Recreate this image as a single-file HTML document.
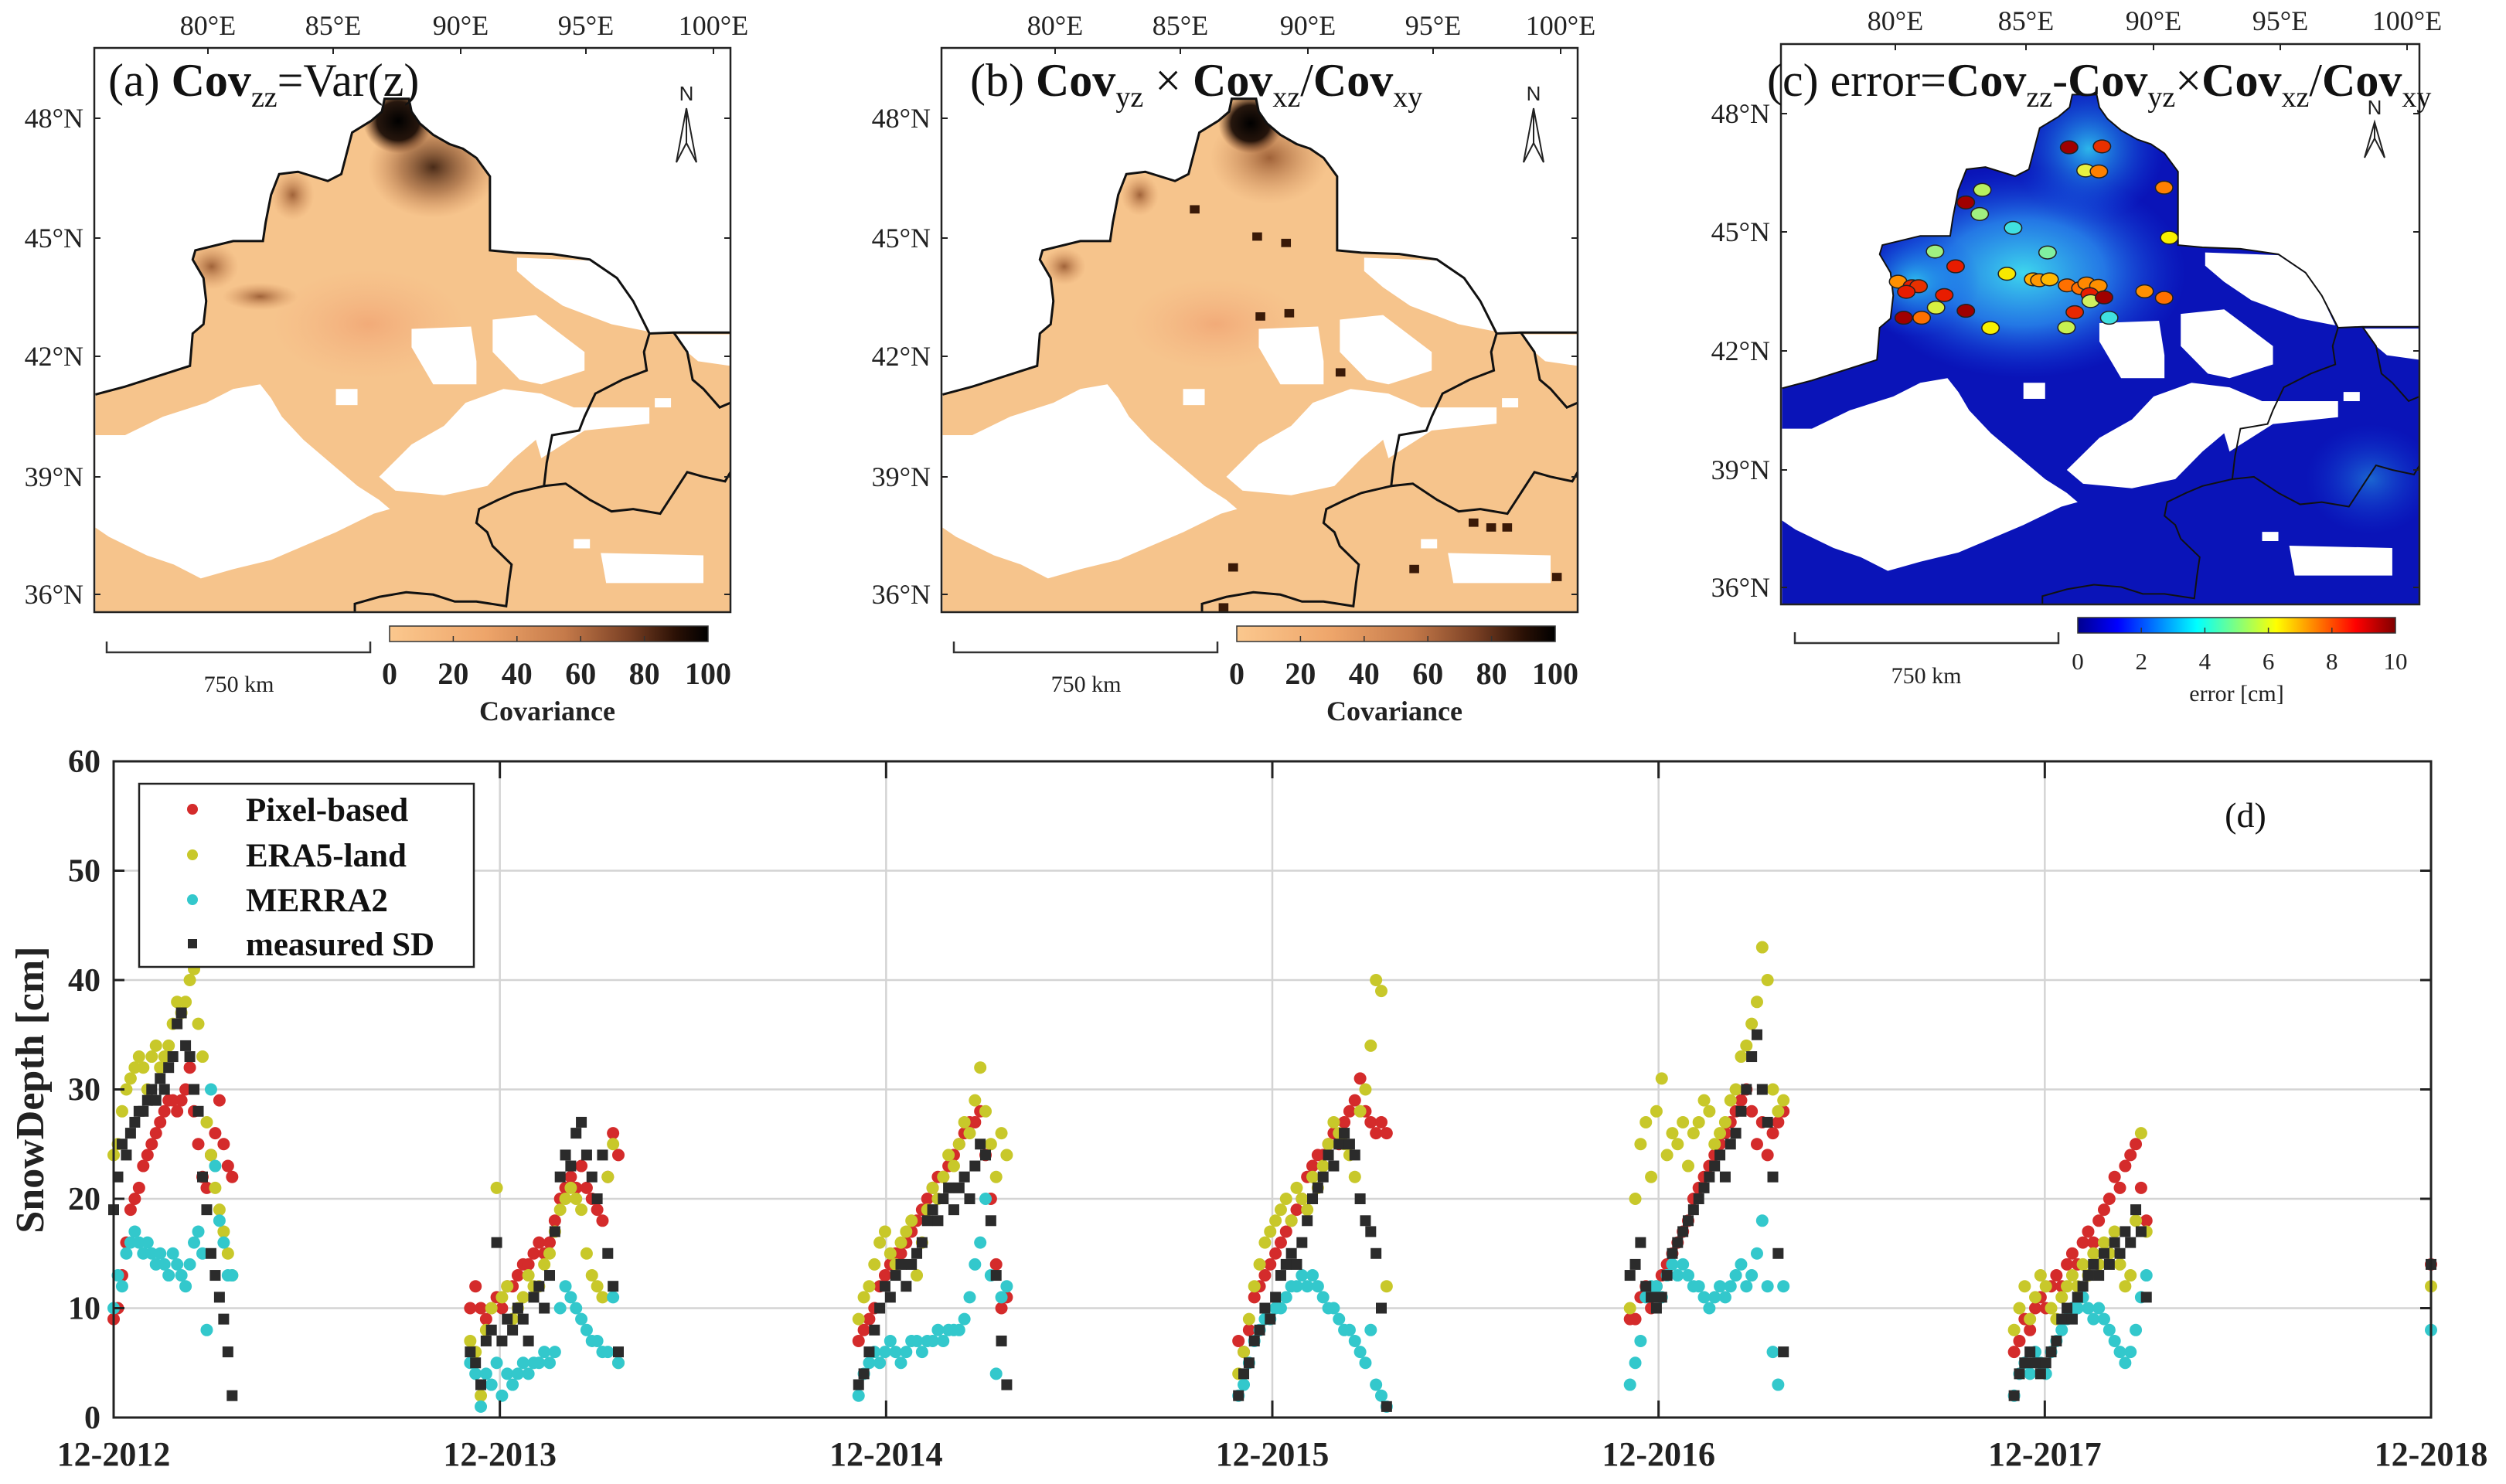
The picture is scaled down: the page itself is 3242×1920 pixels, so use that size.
<!DOCTYPE html>
<html><head><meta charset="utf-8"><style>
html,body{margin:0;padding:0;background:#fff;}
svg{display:block;font-family:"Liberation Serif",serif;}
</style></head><body>
<svg id="root" xmlns="http://www.w3.org/2000/svg" width="3242" height="1920" viewBox="0 0 3242 1920">
<defs>
<linearGradient id="cbA" x1="0" x2="1" y1="0" y2="0"><stop offset="0" stop-color="#fbc88e"/><stop offset="0.3" stop-color="#eea56a"/><stop offset="0.55" stop-color="#c57a4a"/><stop offset="0.75" stop-color="#7a4024"/><stop offset="0.9" stop-color="#2a1005"/><stop offset="1" stop-color="#000"/></linearGradient>
<linearGradient id="cbC" x1="0" x2="1" y1="0" y2="0"><stop offset="0" stop-color="#00008f"/><stop offset="0.125" stop-color="#0000ff"/><stop offset="0.375" stop-color="#00ffff"/><stop offset="0.625" stop-color="#ffff00"/><stop offset="0.875" stop-color="#ff0000"/><stop offset="1" stop-color="#800000"/></linearGradient>
<radialGradient id="darkA"><stop offset="0" stop-color="#2a1004" stop-opacity="0.85"/><stop offset="0.5" stop-color="#7a4020" stop-opacity="0.5"/><stop offset="1" stop-color="#c07040" stop-opacity="0"/></radialGradient>
<radialGradient id="blackA"><stop offset="0" stop-color="#000" stop-opacity="1"/><stop offset="0.6" stop-color="#100400" stop-opacity="0.9"/><stop offset="1" stop-color="#602a10" stop-opacity="0"/></radialGradient>
<radialGradient id="brownS"><stop offset="0" stop-color="#8a4a24" stop-opacity="0.8"/><stop offset="1" stop-color="#d08a58" stop-opacity="0"/></radialGradient>
<radialGradient id="redT"><stop offset="0" stop-color="#f0a070" stop-opacity="0.7"/><stop offset="1" stop-color="#f4b080" stop-opacity="0"/></radialGradient>
<radialGradient id="cyanC"><stop offset="0" stop-color="#40e0f0" stop-opacity="0.95"/><stop offset="0.5" stop-color="#2a90f0" stop-opacity="0.8"/><stop offset="1" stop-color="#1040e0" stop-opacity="0"/></radialGradient>
<radialGradient id="cyanN"><stop offset="0" stop-color="#30c8f0" stop-opacity="0.9"/><stop offset="1" stop-color="#1050e8" stop-opacity="0"/></radialGradient>
</defs>
<g id="maps"></g>
<g id="chart"></g>
</svg>
<script>
// ---------- Chart data (panel d) ----------
const yearLabels = ["12-2012","12-2013","12-2014","12-2015","12-2016","12-2017","12-2018"];
const yTicks = [0,10,20,30,40,50,60];
const seriesNames = ["Pixel-based","ERA5-land","MERRA2","measured SD"];
const seasonYear = [0,1,2,3,4,5,6];
const seasonStart = [0,-28,-26,-32,-27,-29,0];
const seasonStep = [4,5,5,5,5,5,1];
const pixelBased = [
 [9,10,13,16,19,20,21,23,24,25,26,27,28,29,29,28,29,30,32,28,25,22,21,24,26,29,25,23,22],
 [10,12,10,9,10,11,10,12,12,13,14,14,15,16,15,16,18,20,21,22,21,23,21,20,19,18,22,26,24],
 [7,8,9,10,12,13,14,15,15,16,17,18,19,20,21,22,22,23,24,25,26,27,27,28,24,20,14,10,11],
 [7,6,8,11,12,13,14,15,16,17,18,19,20,22,23,24,24,25,26,25,27,28,29,31,28,27,26,27,26],
 [9,9,11,12,10,12,13,14,15,16,17,18,20,21,22,23,24,25,26,27,28,29,30,28,25,27,24,26,27,28],
 [6,7,9,8,10,11,10,12,13,12,14,15,14,16,17,16,18,19,20,22,21,23,24,25,21,18],
 [14]
];
const era5Land = [
 [24,25,28,30,31,32,33,32,30,33,34,32,33,34,36,38,37,38,40,41,36,33,27,24,21,19,17,15,13],
 [7,6,2,8,10,21,11,12,9,10,11,13,12,12,14,15,17,19,20,21,20,19,15,13,12,11,22,25,5],
 [9,11,12,14,16,17,15,14,16,17,18,13,16,19,21,20,22,24,23,25,27,26,29,32,28,25,22,26,24],
 [4,6,9,12,14,16,17,18,19,20,18,21,20,19,22,21,23,25,27,26,25,24,22,28,30,34,40,39,12],
 [10,20,25,27,22,28,31,24,26,25,27,23,26,27,29,28,25,26,27,29,30,33,34,36,38,43,40,30,28,29],
 [8,10,12,9,11,13,12,10,9,11,12,13,12,14,13,15,14,16,15,17,14,12,13,18,26,17],
 [12]
];
const merra2 = [
 [10,13,12,15,16,17,16,15,16,15,14,15,14,13,15,14,13,12,14,16,17,15,8,30,23,18,16,13,13],
 [5,4,1,4,3,5,2,4,3,4,5,4,5,5,6,5,6,10,12,11,10,9,8,7,7,6,6,11,5],
 [2,4,5,6,5,6,7,6,5,6,7,7,6,7,7,8,7,8,8,8,9,11,14,16,20,13,4,11,12],
 [2,3,5,7,8,9,9,10,10,11,12,12,13,12,13,12,11,10,10,9,8,8,7,6,5,8,3,2,1],
 [3,5,7,11,12,12,11,13,14,13,14,13,12,12,11,10,11,12,11,12,13,14,12,13,15,18,12,6,3,12],
 [2,4,5,4,6,5,4,6,7,8,9,10,10,11,10,9,10,9,8,7,6,5,6,8,11,13],
 [8]
];
const measuredSD = [
 [19,22,25,24,26,27,28,28,29,30,29,31,30,32,33,36,37,34,33,30,28,22,19,15,13,11,9,6,2],
 [6,5,3,7,8,16,7,9,8,10,9,7,11,12,10,13,17,22,24,23,26,27,24,22,20,24,15,12,6],
 [3,4,6,8,10,12,11,13,14,12,14,15,16,18,19,18,20,21,19,21,22,20,23,25,24,18,13,7,3],
 [2,4,5,7,8,10,9,11,13,14,15,14,16,18,20,21,22,24,23,25,26,25,24,20,18,17,15,10,1],
 [13,14,16,12,11,10,11,13,15,16,17,18,19,20,21,22,23,24,22,25,26,28,30,33,35,30,27,22,15,6],
 [2,4,5,6,5,4,5,6,7,9,10,9,11,12,13,14,13,15,14,16,15,17,16,19,17,11],
 [14]
];
// ---------- helpers ----------
const NS="http://www.w3.org/2000/svg";
function mk(tag, parent, attrs){const e=document.createElementNS(NS,tag);for(const k in attrs)e.setAttribute(k,attrs[k]);if(parent)parent.appendChild(e);return e;}
function txt(parent, x, y, s, attrs){const t=mk("text",parent,Object.assign({x:x,y:y},attrs||{}));t.textContent=s;return t;}

// ---------- Chart ----------
const chart=document.getElementById("chart");
const PX0=147, PX1=3145, PY0=985, PY1=1834;
const yearW=(PX1-PX0)/6;
function xScale(yearIdx, day){return PX0+(yearIdx+day/365)*yearW;}
function yScale(v){return PY1-v*(PY1-PY0)/60;}
const plotBox=mk("rect",chart,{x:PX0,y:PY0,width:PX1-PX0,height:PY1-PY0,fill:"#fff"});


const grid=mk("g",chart,{});


yTicks.forEach(v=>{mk("line",grid,{x1:PX0,x2:PX1,y1:yScale(v),y2:yScale(v),stroke:"#d4d4d4","stroke-width":2.5});});
yearLabels.forEach((s,i)=>{mk("line",grid,{x1:xScale(i,0),x2:xScale(i,0),y1:PY0,y2:PY1,stroke:"#d4d4d4","stroke-width":2.5});});
const seriesData=[pixelBased,era5Land,merra2,measuredSD];
const seriesColor=["#d42b2b","#c8c82a","#33c8cc","#2b2b2b"];
const seriesKey=["pixel-based","era5-land","merra2","measured-sd"];
seriesData.forEach((sd,si)=>{
  const g=mk("g",chart,{fill:seriesColor[si]});
  
  
  sd.forEach((vals,k)=>{
    vals.forEach((v,i)=>{
      const x=xScale(seasonYear[k],seasonStart[k]+i*seasonStep[k]);
      const y=yScale(v);
      let m;
      if(si===3){m=mk("rect",g,{x:x-7,y:y-7,width:14,height:14});}
      else{m=mk("circle",g,{cx:x,cy:y,r:8});}
      
      
    });
  });
});
const axes=mk("g",chart,{stroke:"#222","stroke-width":3,fill:"none"});


mk("rect",axes,{x:PX0,y:PY0,width:PX1-PX0,height:PY1-PY0});
yTicks.forEach(v=>{mk("line",axes,{x1:PX0,x2:PX0+14,y1:yScale(v),y2:yScale(v)});mk("line",axes,{x1:PX1-14,x2:PX1,y1:yScale(v),y2:yScale(v)});});
yearLabels.forEach((s,i)=>{const x=xScale(i,0);mk("line",axes,{x1:x,x2:x,y1:PY1,y2:PY1-22});mk("line",axes,{x1:x,x2:x,y1:PY0,y2:PY0+22});});
const ytl=mk("g",chart,{"font-size":42,"font-weight":"bold","text-anchor":"end",fill:"#222"});


yTicks.forEach(v=>{txt(ytl,130,yScale(v)+14,String(v));});
const xtl=mk("g",chart,{"font-size":44,"font-weight":"bold","text-anchor":"middle",fill:"#222"});


yearLabels.forEach((s,i)=>{txt(xtl,xScale(i,0),1896,s);});
const yt=txt(chart,0,0,"SnowDepth [cm]",{"font-size":52,"font-weight":"bold","text-anchor":"middle",fill:"#222",transform:"translate(56,1410) rotate(-90)"});


const pl=txt(chart,2905,1070,"(d)",{"font-size":46,"text-anchor":"middle",fill:"#111"});


const leg=mk("g",chart,{});


mk("rect",leg,{x:180,y:1014,width:433,height:237,fill:"#fff",stroke:"#222","stroke-width":2.5});
const legY=[1047,1106,1164,1221];
seriesNames.forEach((n,i)=>{
  const e=mk("g",leg,{});
  
  
  if(i===3)mk("rect",e,{x:243,y:legY[i]-6,width:12,height:12,fill:seriesColor[i]});
  else mk("circle",e,{cx:249,cy:legY[i],r:7,fill:seriesColor[i]});
  txt(e,318,legY[i]+15,n,{"font-size":43,"font-weight":"bold",fill:"#111"});
});

// ---------- Maps ----------
const maps=document.getElementById("maps");
const landPts="175,852 230,835 350,790 355,720 375,700 380,650 375,600 355,560 360,540 430,520 485,520 490,480 500,420 515,375 550,370 605,390 630,375 650,285 685,260 705,240 710,212 755,212 760,240 775,265 800,290 830,310 855,320 880,340 905,380 905,450 905,540 950,545 1020,548 1090,560 1140,600 1170,650 1200,720 1245,718 1350,718 1350,1323 175,1323";
const borderN="175,852 230,835 350,790 355,720 375,700 380,650 375,600 355,560 360,540 430,520 485,520 490,480 500,420 515,375 550,370 605,390 630,375 650,285 685,260 705,240 710,212 755,212 760,240 775,265 800,290 830,310 855,320 880,340 905,380 905,450 905,540 950,545 1020,548 1090,560 1140,600 1170,650 1200,720 1245,718 1350,718";
const borders=[
"1200,720 1190,760 1195,800 1150,820 1100,850 1080,900 1070,930 1020,940 1010,1000 1005,1050 950,1065 920,1080 885,1100 880,1130 900,1150 910,1180 945,1220 940,1260 935,1310 880,1300 840,1300 800,1285 750,1280 700,1290 655,1305 655,1323",
"1005,1050 1045,1045 1090,1080 1130,1105 1170,1100 1220,1110 1270,1020 1300,1030 1340,1040 1350,1020",
"1245,718 1270,760 1280,820 1300,840 1330,880 1350,870"];
const holes=[
"175,940 230,940 300,900 380,870 430,840 480,830 500,860 520,900 560,950 610,1000 660,1050 700,1080 720,1100 690,1110 620,1150 560,1180 500,1210 430,1230 370,1250 320,1220 270,1200 200,1160 175,1140",
"760,710 870,705 880,780 880,830 800,830 760,750",
"910,690 990,680 1080,760 1080,800 1000,830 960,820 910,760",
"860,870 930,840 1000,850 1060,880 1000,940 950,990 900,1050 820,1070 730,1060 700,1030 760,960 820,920",
"970,880 1200,880 1200,915 1080,930 1000,990 990,950",
"1110,1195 1300,1200 1300,1260 1120,1260",
"955,556 1090,562 1140,602 1170,652 1195,715 1130,700 1040,660 990,620 955,585",
"1248,722 1350,722 1350,790 1290,780 1270,760",
"620,840 660,840 660,875 620,875","1210,860 1240,860 1240,880 1210,880","1060,1165 1090,1165 1090,1185 1060,1185"];

function drawMap(idx,bx,by,bw,bh,variant){
  const p=mk("g",maps,{});
  
  
  const s=mk("svg",p,{x:bx,y:by,width:bw,height:bh,viewBox:"173 102 1177 1221",preserveAspectRatio:"none"});
  const cid="clip"+variant;
  const cp=mk("clipPath",s,{id:cid});mk("polygon",cp,{points:landPts});
  const land=mk("polygon",s,{points:landPts,fill:variant==="c"?"#0a14b8":"#f6c48c"});
  
  
  const ov=mk("g",s,{"clip-path":"url(#"+cid+")"});
  if(variant==="a"){
    mk("ellipse",ov,{cx:680,cy:700,rx:180,ry:120,fill:"url(#redT)"});
    mk("ellipse",ov,{cx:480,cy:640,rx:70,ry:30,fill:"url(#brownS)"});
    mk("ellipse",ov,{cx:390,cy:575,rx:50,ry:50,fill:"url(#brownS)"});
    mk("ellipse",ov,{cx:540,cy:420,rx:40,ry:55,fill:"url(#brownS)"});
    mk("ellipse",ov,{cx:800,cy:360,rx:120,ry:110,fill:"url(#darkA)"});
    mk("ellipse",ov,{cx:735,cy:260,rx:65,ry:70,fill:"url(#blackA)"});
  } else if(variant==="b"){
    mk("ellipse",ov,{cx:680,cy:700,rx:160,ry:100,fill:"url(#redT)"});
    mk("ellipse",ov,{cx:540,cy:420,rx:35,ry:45,fill:"url(#brownS)"});
    mk("ellipse",ov,{cx:400,cy:575,rx:40,ry:40,fill:"url(#brownS)"});
    mk("ellipse",ov,{cx:780,cy:340,rx:110,ry:100,fill:"url(#brownS)"});
    mk("ellipse",ov,{cx:745,cy:265,rx:60,ry:65,fill:"url(#blackA)"});
    const dk=[[747,131],[786,148],[804,152],[788,198],[806,196],[838,233],[824,271],[921,327],[932,330],[942,330],[973,361],[771,355],[765,380],[884,356]];
    dk.forEach(d=>{mk("rect",ov,{x:173+(d[0]-589)*2.965-9,y:102+(d[1]-30)*3.459-9,width:18,height:18,fill:"#3a1a08"});});
  } else {
    mk("ellipse",ov,{cx:620,cy:600,rx:300,ry:230,fill:"url(#cyanC)"});
    mk("ellipse",ov,{cx:740,cy:330,rx:140,ry:160,fill:"url(#cyanN)"});
    mk("ellipse",ov,{cx:420,cy:620,rx:120,ry:120,fill:"url(#cyanN)"});
    mk("ellipse",ov,{cx:1260,cy:1050,rx:120,ry:120,fill:"url(#cyanN)",opacity:0.5});
  }
  holes.forEach(h=>{mk("polygon",s,{points:h,fill:"#fff"});});
  const bd=mk("g",s,{fill:"none",stroke:"#111","stroke-width":variant==="c"?2:3,"vector-effect":"non-scaling-stroke"});
  
  
  mk("polyline",bd,{points:borderN,"vector-effect":"non-scaling-stroke"});
  borders.forEach(b=>mk("polyline",bd,{points:b,"vector-effect":"non-scaling-stroke"}));
  if(variant==="c"){
    const dots=[[718,318,"#a00000"],[782,316,"#e83000"],[750,368,"#e8f040"],[776,370,"#ff8000"],[903,405,"#ff8000"],[549,410,"#b8f060"],[517,437,"#a00000"],[544,462,"#a0f080"],[609,492,"#40e0e0"],[913,513,"#f8f000"],[457,543,"#a0f080"],[676,545,"#80f0a0"],[497,575,"#e81c00"],[597,591,"#f8e800"],[648,603,"#ffb000"],[660,605,"#ff9800"],[680,603,"#ffb800"],[385,608,"#ff9000"],[412,618,"#e82000"],[425,618,"#e83000"],[401,630,"#e81c00"],[475,637,"#e81c00"],[714,616,"#ff7000"],[740,622,"#ff7000"],[752,612,"#ff8800"],[775,617,"#ff9000"],[758,635,"#e81c00"],[760,650,"#d0f060"],[786,642,"#a00000"],[865,629,"#ff9000"],[903,643,"#ff7000"],[459,664,"#d8f040"],[517,671,"#a00000"],[396,686,"#a00000"],[431,686,"#ff7000"],[729,674,"#e82800"],[796,686,"#40e0e0"],[565,708,"#f8f000"],[713,707,"#c8f050"]];
    dots.forEach(d=>{
      const cx=173+(d[0]-157)*1177/1243, cy=102+(d[1]-95)*1221/1210;
      const c=mk("ellipse",s,{cx:cx,cy:cy,rx:16,ry:14,fill:d[2],stroke:"#222","stroke-width":1.5,"vector-effect":"non-scaling-stroke"});
      
      
    });
  }
  const fr=mk("rect",p,{x:bx,y:by,width:bw,height:bh,fill:"none",stroke:"#222","stroke-width":2.5});
  
  
}
drawMap(0,122,62,823,730,"a");
drawMap(1,1218,62,823,730,"b");
drawMap(2,2304,57,826,725,"c");

function mapLabels(v,lonX,lonY,latRight,latY,bx,by,bw,bh){
  const g=mk("g",maps,{"font-size":36,fill:"#222"});
  
  
  const lons=["80°E","85°E","90°E","95°E","100°E"], lats=["48°N","45°N","42°N","39°N","36°N"];
  lons.forEach((s,i)=>{txt(g,lonX[i],lonY,s,{"text-anchor":"middle"});mk("line",g,{x1:lonX[i],x2:lonX[i],y1:by,y2:by+8,stroke:"#222","stroke-width":2});});
  lats.forEach((s,i)=>{txt(g,latRight,latY[i]+12,s,{"text-anchor":"end"});mk("line",g,{x1:bx,x2:bx+8,y1:latY[i],y2:latY[i],stroke:"#222","stroke-width":2});mk("line",g,{x1:bx+bw-8,x2:bx+bw,y1:latY[i],y2:latY[i],stroke:"#222","stroke-width":2});});
}
mapLabels("a",[269,431,596,758,923],45,108,[153,308,461,617,769],122,62,823,730);
mapLabels("b",[1365,1527,1692,1854,2019],45,1204,[153,308,461,617,769],1218,62,823,730);
mapLabels("c",[2452,2621,2786,2950,3114],39,2290,[147,300,454,608,760],2304,57,826,725);

function northArrow(x,ytop,h){
  const g=mk("g",maps,{});
  
  
  txt(g,x,ytop+20,"N",{"font-size":26,"text-anchor":"middle","font-family":"Liberation Sans, sans-serif",fill:"#222"});
  mk("polygon",g,{points:`${x},${ytop+30} ${x-13},${ytop+h} ${x},${ytop+h-25} ${x+13},${ytop+h}`,fill:"#fff",stroke:"#222","stroke-width":2});
  mk("line",g,{x1:x,y1:ytop+30,x2:x,y2:ytop+h-25,stroke:"#222","stroke-width":2});
}
northArrow(888,110,100);
northArrow(1984,110,100);
northArrow(3072,128,76);

function title(parent,x,y,parts,name){
  const t=mk("text",parent,{x:x,y:y,"font-size":60,fill:"#111"});
  
  
  parts.forEach(p=>{const ts=mk("tspan",t,{});ts.textContent=p[0];
    if(p[1]==="b")ts.setAttribute("font-weight","bold");
    if(p[1]==="s"){ts.setAttribute("font-size","38");ts.setAttribute("baseline-shift","-14");}
  });
}
title(maps,140,124,[["(a) ",""],["Cov","b"],["zz","s"],["=Var(z)",""]],"panel-title-a");
title(maps,1255,124,[["(b) ",""],["Cov","b"],["yz","s"],[" × ",""],["Cov","b"],["xz","s"],["/",""],["Cov","b"],["xy","s"]],"panel-title-b");
title(maps,2286,124,[["(c) error=",""],["Cov","b"],["zz","s"],["-",""],["Cov","b"],["yz","s"],["×",""],["Cov","b"],["xz","s"],["/",""],["Cov","b"],["xy","s"]],"panel-title-c");

function scaleBar(x1,x2,y,lx,ly){
  const g=mk("g",maps,{});
  
  
  mk("polyline",g,{points:`${x1},${y-14} ${x1},${y} ${x2},${y} ${x2},${y-14}`,fill:"none",stroke:"#333","stroke-width":2.5});
  txt(g,lx,ly+10,"750 km",{"font-size":30,"text-anchor":"middle",fill:"#222"});
}
scaleBar(138,479,844,309,885);
scaleBar(1234,1575,844,1405,885);
scaleBar(2322,2663,832,2492,874);

function colorbar(x,y,w,h,grad,labels,title,bold,ly,ty,fs){
  const g=mk("g",maps,{});
  
  
  mk("rect",g,{x:x,y:y,width:w,height:h,fill:"url(#"+grad+")",stroke:"#333","stroke-width":1.5});
  labels.forEach((s,i)=>{const xx=x+w*i/(labels.length-1);
    if(i>0&&i<labels.length-1)mk("line",g,{x1:xx,x2:xx,y1:y+h-7,y2:y+h,stroke:"#333","stroke-width":1.5});
    txt(g,xx,ly,s,{"font-size":fs,"text-anchor":"middle","font-weight":bold?"bold":"normal",fill:"#222"});});
  txt(g,x+w/2+(bold?-2:0),ty,title,{"font-size":bold?36:30,"text-anchor":"middle","font-weight":bold?"bold":"normal",fill:"#222"});
}
colorbar(504,810,412,20,"cbA",["0","20","40","60","80","100"],"Covariance",true,885,932,40);
colorbar(1600,810,412,20,"cbA",["0","20","40","60","80","100"],"Covariance",true,885,932,40);
colorbar(2688,799,411,20,"cbC",["0","2","4","6","8","10"],"error [cm]",false,866,907,31);
</script>
</body></html>
